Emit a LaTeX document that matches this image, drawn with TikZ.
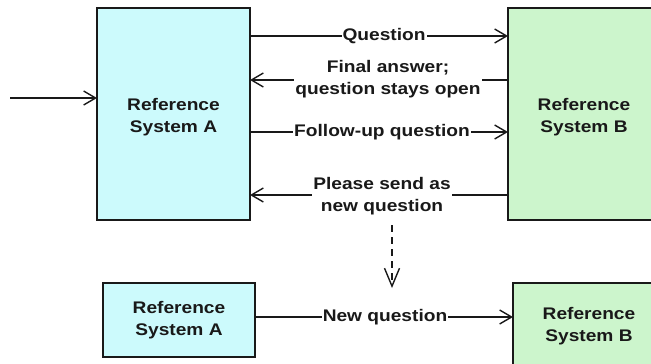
\documentclass[tikz,border=0pt]{standalone}
\usepackage{fontspec}
\setmainfont[FakeStretch=1.14]{Liberation Sans}
\usetikzlibrary{arrows.meta}
\definecolor{sysA}{RGB}{204,250,252}
\definecolor{sysB}{RGB}{204,245,204}
\definecolor{ink}{RGB}{25,25,25}
\begin{document}
\begin{tikzpicture}[x=1pt,y=-1pt,
  every node/.style={font=\bfseries\fontsize{16.8}{22}\selectfont, text=ink},
  sysbox/.style={draw=ink, line width=2pt, inner sep=0pt},
  msg/.style={draw=ink, line width=1.4pt, -{Straight Barb[length=12pt,width=14pt,line width=1.4pt]}},
  lbl/.style={fill=white, inner sep=1pt, align=center},
  sys/.style={align=center, inner sep=0pt}]
\useasboundingbox (0,0) rectangle (651,364);
\clip (0,0) rectangle (651,364);

% upper row: the two systems
\draw[sysbox, fill=sysA] (97,8) rectangle (250,220);
\draw[sysbox, fill=sysB] (508,8) rectangle (660,220);
\node[sys] (A) at (173.5,117) {Reference\\System A};
\node[sys] (B) at (584,117) {Reference\\System B};
\coordinate (Aw) at (97,98);
\coordinate (in) at (10,98);

% message anchors on the box sides
\coordinate (a1) at (250,36);  \coordinate (b1) at (508,36);
\coordinate (a2) at (250,80);  \coordinate (b2) at (508,80);
\coordinate (a3) at (250,132); \coordinate (b3) at (508,132);
\coordinate (a4) at (250,195); \coordinate (b4) at (508,195);

\draw[msg] (in) -- (Aw);
\draw[msg] (a1) -- (b1);
\draw[msg] (b2) -- (a2);
\draw[msg] (a3) -- (b3);
\draw[msg] (b4) -- (a4);

\node[lbl] (q1) at (384,36) {Question};
\node[lbl] (q2) at (388,79) {Final answer;\\question stays open};
\node[lbl] (q3) at (382,132) {Follow-up question};
\node[lbl] (q4) at (382,196) {Please send as\\new question};

% transition to the lower row
\coordinate (t0) at (392,225);
\coordinate (t1) at (392,288);
\draw[draw=ink, line width=1.4pt, dash pattern=on 7pt off 5pt,
      -{Straight Barb[length=18pt,width=15pt,line width=1.4pt]}] (t0) -- (t1);

% lower row
\draw[sysbox, fill=sysA] (103,283) rectangle (255,357);
\draw[sysbox, fill=sysB] (513,283) rectangle (665,372);
\node[sys] (A2) at (179,320) {Reference\\System A};
\node[sys] (B2) at (589,326) {Reference\\System B};
\coordinate (a5) at (255,317);
\coordinate (b5) at (513,317);
\draw[msg] (a5) -- (b5);
\node[lbl] (q5) at (385,317) {New question};
\end{tikzpicture}
\end{document}
